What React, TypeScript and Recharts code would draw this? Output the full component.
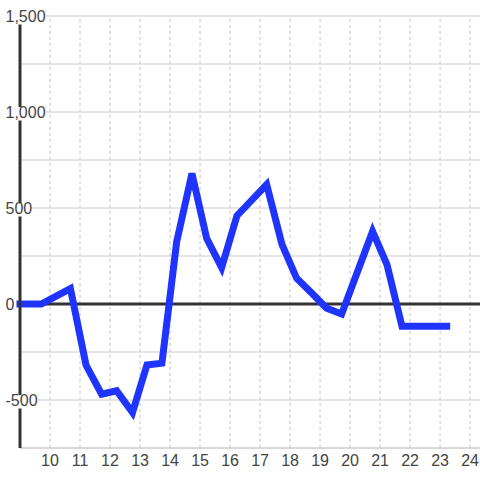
import React from 'react';
import { LineChart, Line, XAxis, YAxis, CartesianGrid, ReferenceLine } from 'recharts';

const times = [9, 9.71, 10.68, 11.2, 11.72, 12.22, 12.75, 13.23, 13.73, 14.22, 14.73, 15.22, 15.72, 16.23, 17.22, 17.73, 18.22, 18.72, 19.22, 19.72, 20.75, 21.23, 21.73, 23.22];
const values = [0, 0, 80, -318, -470, -452, -565, -318, -308, 323, 680, 342, 190, 460, 622, 310, 134, 57, -22, -52, 378, 205, -116, -116];
const xTicks = [10, 11, 12, 13, 14, 15, 16, 17, 18, 19, 20, 21, 22, 23, 24];
const yTicks = [-750, -500, -250, 0, 250, 500, 750, 1000, 1250, 1500];
const yLabelTicks = [-500, 0, 500, 1000, 1500];

const data = times.map((t, i) => ({ t, v: values[i] }));

const FONT = '"Liberation Sans", Arial, sans-serif';
const FS = 16;

function fmt(v: number): string {
  const s = String(Math.abs(v)).replace(/\B(?=(\d{3})+(?!\d))/g, ',');
  return (v < 0 ? '-' : '') + s;
}

function textWidth(s: string, size: number): number {
  let w = 0;
  for (const c of s) w += c === ',' ? 0.278 : c === '-' ? 0.333 : 0.556;
  return w * size;
}

const YTick = (props: any) => {
  const { x, y, payload } = props;
  const v = payload.value;
  if (!yLabelTicks.includes(v)) return <g />;
  const label = fmt(v);
  const w = textWidth(label, FS);
  const tx = x - 14.5;
  return (
    <g>
      <rect x={tx} y={y - 5} width={w} height={13.5} fill="#ffffff" />
      <text x={tx} y={y + 5.5} fontSize={FS} fontFamily={FONT} fill="#444" textAnchor="start">
        {label}
      </text>
    </g>
  );
};

const XTick = (props: any) => {
  const { x, y, payload } = props;
  return (
    <text x={x} y={y + 17.5} fontSize={FS} fontFamily={FONT} fill="#444" textAnchor="middle">
      {payload.value}
    </text>
  );
};

export default function App() {
  return (
    <div style={{ position: 'absolute', left: 0, top: 0, background: '#fff' }}>
      <LineChart width={480} height={480} data={data} margin={{ top: 16, right: 0, left: 0, bottom: 0 }}>
        <CartesianGrid vertical={false} stroke="#cccccc" syncWithTicks />
        {xTicks.map((t) => (
          <ReferenceLine key={t} x={t} stroke="#c4c4c4" strokeDasharray="3 3" />
        ))}
        <XAxis
          type="number"
          dataKey="t"
          domain={[9, 24.33]}
          ticks={xTicks}
          height={32}
          tickLine={false}
          tickSize={0}
          tickMargin={0}
          axisLine={{ stroke: '#cccccc' }}
          tick={<XTick />}
          interval={0}
        />
        <YAxis
          type="number"
          domain={[-750, 1500]}
          ticks={yTicks}
          width={20}
          tickLine={false}
          tickSize={0}
          tickMargin={0}
          axisLine={{ stroke: '#333333', strokeWidth: 3 }}
          tick={<YTick />}
          interval={0}
        />
        <ReferenceLine y={0} stroke="#333333" strokeWidth={3} />
        <Line
          type="linear"
          dataKey="v"
          stroke="#1f35ff"
          strokeWidth={7}
          strokeLinecap="square"
          dot={false}
          activeDot={false}
          isAnimationActive={false}
        />
      </LineChart>
    </div>
  );
}
